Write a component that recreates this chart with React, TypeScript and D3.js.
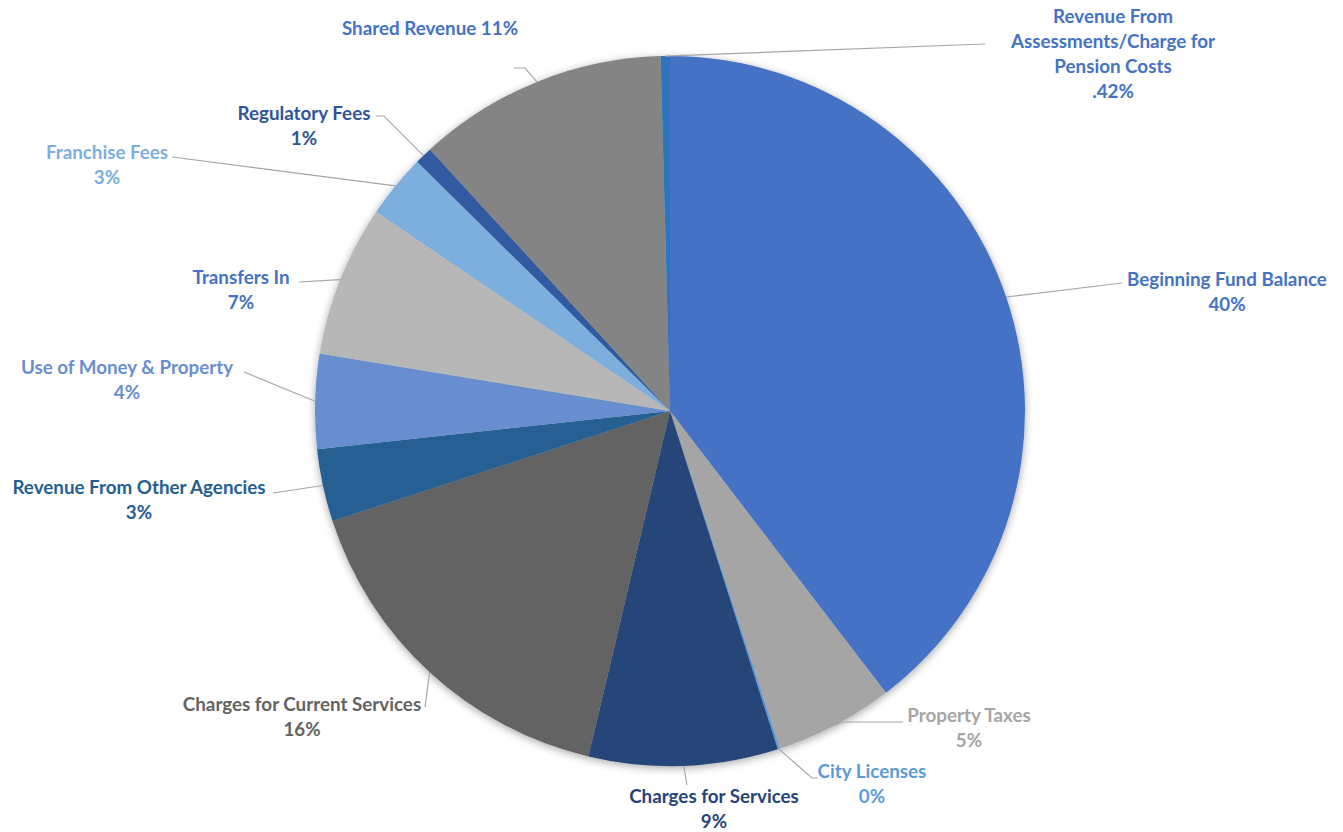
import React from "react";
import * as d3 from "d3";

const categories = [
  "Beginning Fund Balance",
  "Property Taxes",
  "City Licenses",
  "Charges for Services",
  "Charges for Current Services",
  "Revenue From Other Agencies",
  "Use of Money & Property",
  "Transfers In",
  "Franchise Fees",
  "Regulatory Fees",
  "Shared Revenue",
  "Revenue From Assessments/Charge for Pension Costs",
];
const values = [39.6, 5.4, 0.1, 8.6, 16.3, 3.3, 4.3, 6.9, 2.9, 0.8, 11.4, 0.42];
const percentLabels = ["40%", "5%", "0%", "9%", "16%", "3%", "4%", "7%", "3%", "1%", "11%", ".42%"];

const sliceColors = [
  "#4472C4", "#A5A5A5", "#5B9BD5", "#264478", "#636363", "#255E91",
  "#698ED0", "#B7B7B7", "#7CAFDD", "#335AA1", "#848484", "#2E75C0",
];
const labelColors = [
  "#4472C4", "#A5A5A5", "#5B9BD5", "#264478", "#636363", "#255E91",
  "#698ED0", "#4472C4", "#7CAFDD", "#2F5597", "#4472C4", "#4472C4",
];

// label layout: text lines, centre x, first line centre y, leader points after the pie edge
const labelLayout = [
  { lines: ["Beginning Fund Balance", "40%"], x: 1227, y: 280, pts: [[1122, 283]] },
  { lines: ["Property Taxes", "5%"], x: 969, y: 716, pts: [[842, 722], [903, 722]] },
  { lines: ["City Licenses", "0%"], x: 872, y: 772, pts: [[812, 778], [818, 778]] },
  { lines: ["Charges for Services", "9%"], x: 714, y: 797, pts: [[687, 785]] },
  { lines: ["Charges for Current Services", "16%"], x: 302, y: 705, pts: [[425, 707]] },
  { lines: ["Revenue From Other Agencies", "3%"], x: 139, y: 488, pts: [[273, 493]] },
  { lines: ["Use of Money & Property", "4%"], x: 127, y: 368, pts: [[244, 372]] },
  { lines: ["Transfers In", "7%"], x: 241, y: 278, pts: [[299, 282]] },
  { lines: ["Franchise Fees", "3%"], x: 107, y: 153, pts: [[172, 157]] },
  { lines: ["Regulatory Fees", "1%"], x: 304, y: 114, pts: [[384, 116], [376, 116]] },
  { lines: ["Shared Revenue 11%"], x: 430, y: 29, pts: [[525, 68], [514, 68]] },
  { lines: ["Revenue From", "Assessments/Charge for", "Pension Costs", ".42%"], x: 1113, y: 17, pts: [[985, 44]] },
];

const W = 1343;
const H = 832;
const CX = 670;
const CY = 411;
const R = 355;

export default function App() {
  const pie = d3.pie<number>().sort(null).value((d) => d);
  const arcs = pie(values);
  const arcGen = d3.arc<d3.PieArcDatum<number>>().innerRadius(0).outerRadius(R);
  const line = d3.line();

  return (
    <svg
      width={W}
      height={H}
      style={{ position: "absolute", left: 0, top: 0, background: "#fff" }}
      fontFamily="Lato, 'Open Sans', sans-serif"
    >
      <defs>
        <filter id="shadow" x="-20%" y="-20%" width="140%" height="140%">
          <feGaussianBlur in="SourceAlpha" stdDeviation="4" />
          <feOffset dx="0" dy="2" result="b" />
          <feComponentTransfer>
            <feFuncA type="linear" slope="0.35" />
          </feComponentTransfer>
          <feMerge>
            <feMergeNode />
            <feMergeNode in="SourceGraphic" />
          </feMerge>
        </filter>
      </defs>
      <g transform={`translate(${CX},${CY})`} filter="url(#shadow)">
        {arcs.map((a, i) => (
          <path key={categories[i]} d={arcGen(a) || ""} fill={sliceColors[i]} />
        ))}
      </g>
      <g>
        {arcs.map((a, i) => {
          const mid = (a.startAngle + a.endAngle) / 2;
          const ex = CX + R * Math.sin(mid);
          const ey = CY - R * Math.cos(mid);
          const pts: [number, number][] = [[ex, ey], ...(labelLayout[i].pts as [number, number][])];
          return (
            <path key={"l" + i} d={line(pts) || ""} fill="none" stroke="#A6A6A6" strokeWidth={1.2} />
          );
        })}
      </g>
      <g>
        {labelLayout.map((l, i) => (
          <text
            key={"t" + i}
            x={l.x}
            y={l.y}
            textAnchor="middle"
            fontSize={18.8}
            fontWeight={700}
            fill={labelColors[i]}
          >
            {l.lines.map((s, j) => (
              <tspan key={j} x={l.x} y={l.y + j * 25} dy="0.33em">
                {s}
              </tspan>
            ))}
          </text>
        ))}
      </g>
    </svg>
  );
}
